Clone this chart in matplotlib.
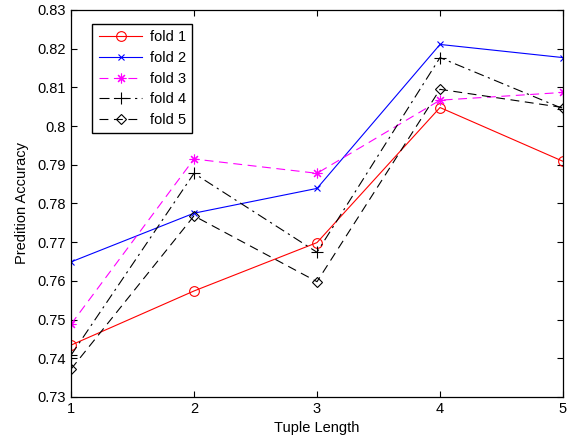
import matplotlib
matplotlib.use("Agg")
import matplotlib.pyplot as plt

plt.rcParams['font.family'] = ['Liberation Sans', 'DejaVu Sans']

x = [1, 2, 3, 4, 5]
fold1 = [0.7434, 0.7574, 0.7699, 0.8048, 0.7909]
fold2 = [0.7649, 0.7775, 0.7839, 0.8211, 0.8177]
fold3 = [0.7488, 0.7915, 0.7878, 0.8067, 0.8087]
fold4 = [0.7408, 0.7878, 0.7674, 0.8177, 0.8045]
fold5 = [0.7372, 0.7768, 0.7598, 0.8095, 0.8048]
labels = ['fold 1', 'fold 2', 'fold 3', 'fold 4', 'fold 5']
yticks = [0.73, 0.74, 0.75, 0.76, 0.77, 0.78, 0.79, 0.8, 0.81, 0.82, 0.83]
yticklabels = ['0.73', '0.74', '0.75', '0.76', '0.77', '0.78', '0.79', '0.8', '0.81', '0.82', '0.83']

fig = plt.figure(figsize=(5.74, 4.41), dpi=100)
ax = fig.add_axes([71/574, 44/441, 492/574, 387/441])

lw = 0.8
ax.plot(x, fold1, color='#ff0000', ls='-', marker='o', mfc='none', ms=7, mew=0.8, lw=lw, label=labels[0])
ax.plot(x, fold2, color='#0000ff', ls='-', marker='x', ms=5, mew=0.8, lw=lw, label=labels[1])
ax.plot(x, fold3, color='#ff00ff', ls=(0, (8, 5)), marker=(8, 2, 0), ms=7, mew=0.8, lw=lw, label=labels[2])
ax.plot(x, fold4, color='black', ls=(0, (9, 4, 2, 4)), marker='+', ms=8, mew=0.8, lw=lw, label=labels[3])
ax.plot(x, fold5, color='black', ls=(0, (8, 5)), marker='D', mfc='none', ms=5.5, mew=0.8, lw=lw, label=labels[4])

ax.set_xlim(1, 5)
ax.set_ylim(0.73, 0.83)
ax.set_xticks(x)
ax.set_xticklabels([str(v) for v in x])
ax.set_yticks(yticks)
ax.set_yticklabels(yticklabels)
ax.tick_params(direction='in', top=True, right=True, labelsize=10.5, length=4, width=0.8)
for s in ax.spines.values():
    s.set_linewidth(0.9)
ax.set_xlabel('Tuple Length', fontsize=10.5, labelpad=4)
ax.set_ylabel('Predition Accuracy', fontsize=10.5, labelpad=6)

leg = ax.legend(loc='upper left', bbox_to_anchor=(0.043, 0.964), borderaxespad=0,
                fontsize=10.5, fancybox=False, edgecolor='black', framealpha=1,
                handlelength=3.0, labelspacing=0.45, borderpad=0.45, handletextpad=0.5)
leg.get_frame().set_linewidth(1.0)

fig.savefig('out.png', dpi=100)
